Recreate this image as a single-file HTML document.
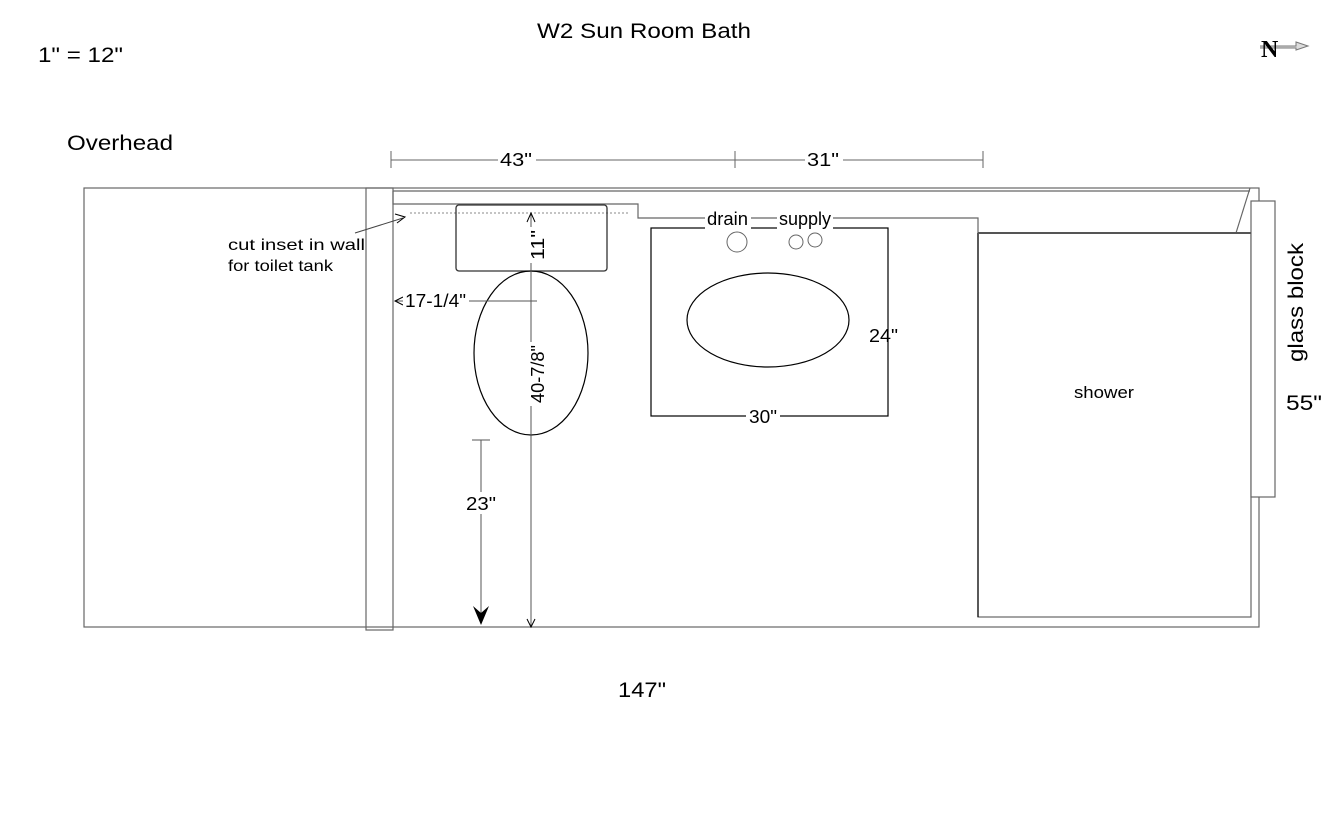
<!DOCTYPE html>
<html><head><meta charset="utf-8"><style>
html,body{margin:0;padding:0;background:#fff;}
svg{display:block;}
text{font-family:"Liberation Sans",Arial,sans-serif;fill:#000;}
</style></head><body>
<svg width="1344" height="816" viewBox="0 0 1344 816" xmlns="http://www.w3.org/2000/svg">
<text x="537" y="38" font-size="21" textLength="214" lengthAdjust="spacingAndGlyphs">W2 Sun Room Bath</text>
<text x="38" y="62" font-size="21" textLength="85" lengthAdjust="spacingAndGlyphs">1" = 12"</text>
<text x="67" y="150" font-size="21" textLength="106" lengthAdjust="spacingAndGlyphs">Overhead</text>
<!-- north -->
<g transform="translate(1258,34)">
<path d="M2 12 L38 12 L38 8 L50 12 L38 16 L38 14 L2 14" fill="#ddd" stroke="#777" stroke-width="1"/>
<text x="3" y="23" font-size="24" font-weight="bold" fill="#555" style="font-family:'Liberation Serif',serif">N</text>
</g>
<!-- top dims -->
<g stroke="#666" stroke-width="1">
<line x1="391" y1="160" x2="983" y2="160"/>
<line x1="391" y1="151" x2="391" y2="168"/>
<line x1="735" y1="151" x2="735" y2="168"/>
<line x1="983" y1="151" x2="983" y2="168"/>
</g>
<rect x="498" y="150" width="38" height="20" fill="#fff"/>
<text x="500" y="166" font-size="18" textLength="32" lengthAdjust="spacingAndGlyphs">43"</text>
<rect x="805" y="150" width="38" height="20" fill="#fff"/>
<text x="807" y="166" font-size="18" textLength="32" lengthAdjust="spacingAndGlyphs">31"</text>
<!-- outer room -->
<g fill="none" stroke="#666" stroke-width="1.2">
<rect x="84" y="188" width="1175" height="439"/>
<rect x="366" y="188" width="27" height="442"/>
<path d="M393 191 L1250 191"/>
<path d="M393 191 L393 204 L638 204 L638 218 L978 218 L978 233"/>
<path d="M1250 188 L1236 233"/>
<rect x="978" y="233" width="273" height="384"/>
<rect x="1251" y="201" width="24" height="296" fill="#fff"/>
</g>
<line x1="978" y1="233" x2="978" y2="617" stroke="#000" stroke-width="1.2"/>
<line x1="978" y1="233" x2="1251" y2="233" stroke="#555" stroke-width="2"/>
<!-- dotted inset -->
<line x1="410" y1="213" x2="628" y2="213" stroke="#888" stroke-width="1" stroke-dasharray="2,2"/>
<!-- leader -->
<line x1="355" y1="233" x2="403" y2="218" stroke="#444" stroke-width="1"/>
<path d="M395 214 L405 217 L397 223" fill="none" stroke="#000" stroke-width="1"/>
<text x="228" y="250" font-size="16" textLength="137" lengthAdjust="spacingAndGlyphs">cut inset in wall</text>
<text x="228" y="271" font-size="16" textLength="105" lengthAdjust="spacingAndGlyphs">for toilet tank</text>
<!-- toilet -->
<rect x="456" y="205" width="151" height="66" rx="3" fill="none" stroke="#333" stroke-width="1.3"/>
<ellipse cx="531" cy="353" rx="57" ry="82" fill="none" stroke="#000" stroke-width="1.2"/>
<line x1="531" y1="213" x2="531" y2="627" stroke="#555" stroke-width="1"/>
<path d="M527 222 L531 213 L535 222" fill="none" stroke="#000" stroke-width="1"/>
<path d="M527 619 L531 627 L535 619" fill="none" stroke="#000" stroke-width="1"/>
<rect x="522" y="227" width="18" height="36" fill="#fff"/>
<text transform="translate(544,260) rotate(-90)" font-size="18" textLength="30" lengthAdjust="spacingAndGlyphs">11"</text>
<rect x="522" y="342" width="18" height="64" fill="#fff"/>
<text transform="translate(544,403) rotate(-90)" font-size="18" textLength="58" lengthAdjust="spacingAndGlyphs">40-7/8"</text>
<line x1="395" y1="301" x2="537" y2="301" stroke="#555" stroke-width="1"/>
<path d="M403 297 L395 301 L403 305" fill="none" stroke="#000" stroke-width="1"/>
<rect x="403" y="292" width="66" height="18" fill="#fff"/>
<text x="405" y="307" font-size="18" textLength="61" lengthAdjust="spacingAndGlyphs">17-1/4"</text>
<!-- 23 -->
<line x1="481" y1="440" x2="481" y2="622" stroke="#555" stroke-width="1"/>
<line x1="472" y1="440" x2="490" y2="440" stroke="#555" stroke-width="1"/>
<path d="M473 606 L481 625 L489 606 L481 613 Z" fill="#000"/>
<rect x="464" y="492" width="34" height="22" fill="#fff"/>
<text x="466" y="510" font-size="18" textLength="30" lengthAdjust="spacingAndGlyphs">23"</text>
<!-- sink -->
<rect x="651" y="228" width="237" height="188" fill="none" stroke="#000" stroke-width="1.2"/>
<ellipse cx="768" cy="320" rx="81" ry="47" fill="none" stroke="#000" stroke-width="1.2"/>
<circle cx="737" cy="242" r="10" fill="none" stroke="#666" stroke-width="1"/>
<circle cx="796" cy="242" r="7" fill="none" stroke="#666" stroke-width="1"/>
<circle cx="815" cy="240" r="7" fill="none" stroke="#666" stroke-width="1"/>
<rect x="705" y="210" width="46" height="20" fill="#fff"/>
<text x="707" y="225" font-size="18" textLength="41" lengthAdjust="spacingAndGlyphs">drain</text>
<rect x="777" y="210" width="56" height="22" fill="#fff"/>
<text x="779" y="225" font-size="18" textLength="52" lengthAdjust="spacingAndGlyphs">supply</text>
<rect x="746" y="407" width="34" height="18" fill="#fff"/>
<text x="749" y="423" font-size="18" textLength="28" lengthAdjust="spacingAndGlyphs">30"</text>
<text x="869" y="342" font-size="18" textLength="29" lengthAdjust="spacingAndGlyphs">24"</text>
<text x="1074" y="398" font-size="17" textLength="60" lengthAdjust="spacingAndGlyphs">shower</text>
<text transform="translate(1303,362) rotate(-90)" font-size="21" textLength="119" lengthAdjust="spacingAndGlyphs">glass block</text>
<text x="1286" y="410" font-size="21" textLength="36" lengthAdjust="spacingAndGlyphs">55"</text>
<text x="618" y="697" font-size="21" textLength="48" lengthAdjust="spacingAndGlyphs">147"</text>
</svg>
</body></html>
